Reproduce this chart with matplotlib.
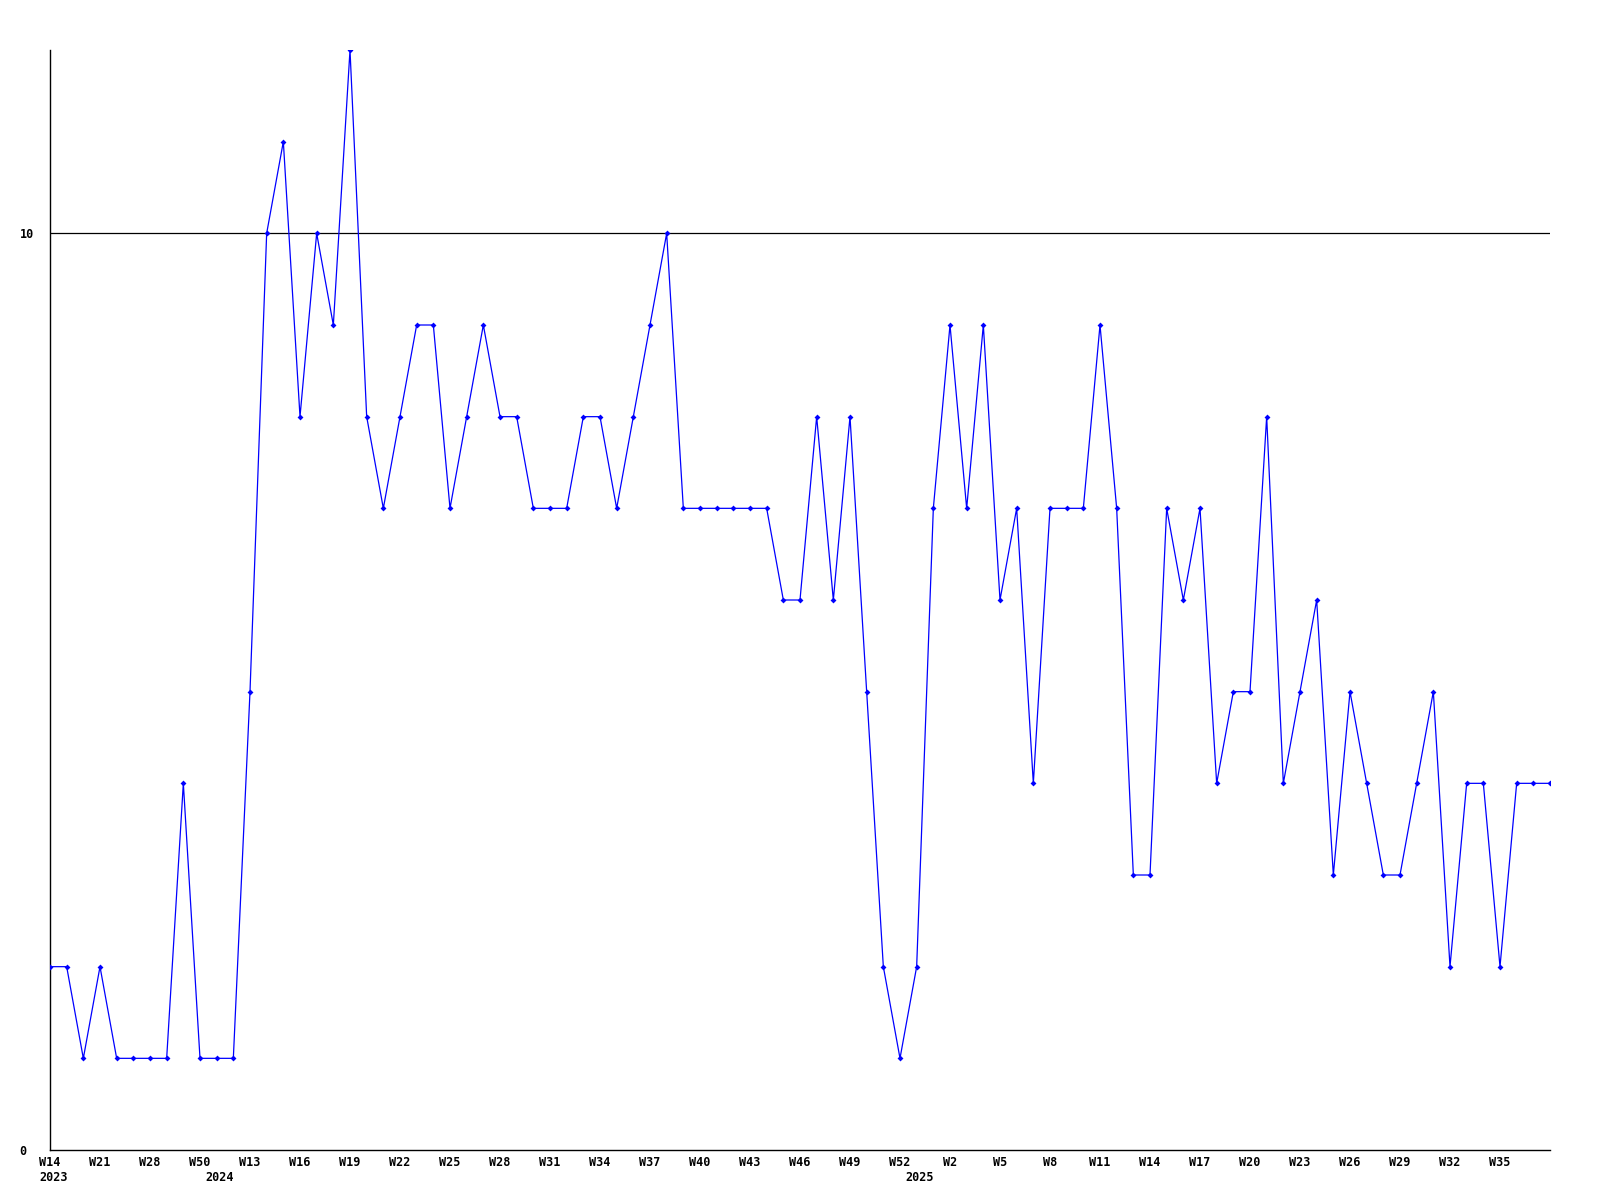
import numpy as np
import matplotlib
matplotlib.use("Agg")
import matplotlib.pyplot as plt

# weekly values, one per point
values = [2, 2, 1, 2, 1, 1, 1, 1, 4, 1, 1, 1,
          5, 10, 11, 8, 10, 9, 12, 8, 7, 8, 9, 9,
          7, 8, 9, 8, 8, 7, 7, 7, 8, 8, 7, 8,
          9, 10, 7, 7, 7, 7, 7, 7, 6, 6, 8, 6,
          8, 5, 2, 1, 2, 7, 9, 7, 9, 6, 7, 4,
          7, 7, 7, 9, 7, 3, 3, 7, 6, 7, 4, 5,
          5, 8, 4, 5, 6, 3, 5, 4, 3, 3, 4, 5,
          2, 4, 4, 2, 4, 4, 4]

# tick labels every 3rd point
week_labels = ["W14", "W21", "W28", "W50", "W13", "W16", "W19", "W22", "W25", "W28",
               "W31", "W34", "W37", "W40", "W43", "W46", "W49", "W52", "W2", "W5",
               "W8", "W11", "W14", "W17", "W20", "W23", "W26", "W29", "W32", "W35"]
years = ["2023", "2024", "2025"]
year_pos = [0.2, 10.2, 52.2]
y_ticks = [0, 10]
ref_line = 10

x = np.arange(len(values))

plt.rcParams['font.family'] = 'DejaVu Sans Mono'
plt.rcParams['font.weight'] = 'bold'
fs = 8.5

fig = plt.figure(figsize=(16, 12), dpi=100)
ax = fig.add_axes([50/1600, 1 - 1150/1200, 1500/1600, 1100/1200])

ax.axhline(ref_line, color='black', lw=0.9, zorder=1)
ax.plot(x, values, color='#0000ff', lw=0.9, marker='D', markersize=3,
        markeredgewidth=0, zorder=3)

ax.set_xlim(0, len(values) - 1)
ax.set_ylim(0, 12)

for s in ['top', 'right']:
    ax.spines[s].set_visible(False)
for s in ['left', 'bottom']:
    ax.spines[s].set_linewidth(1.0)
    ax.spines[s].set_color('black')

ax.set_xticks(x[::3][:len(week_labels)])
ax.set_xticklabels(week_labels, fontsize=fs, fontweight='bold')
ax.tick_params(axis='x', length=0, pad=4.5)

ax.set_yticks(y_ticks)
ax.set_yticklabels([str(v) for v in y_ticks], fontsize=fs, fontweight='bold', ha='left')
ax.tick_params(axis='y', length=0, pad=22)

for yr, pos in zip(years, year_pos):
    ax.annotate(yr, xy=(pos, 0), xycoords=('data', 'axes fraction'),
                xytext=(0, -21), textcoords='offset pixels',
                ha='center', va='top', fontsize=fs, fontweight='bold')

fig.savefig('out.png', dpi=100, facecolor='white')
